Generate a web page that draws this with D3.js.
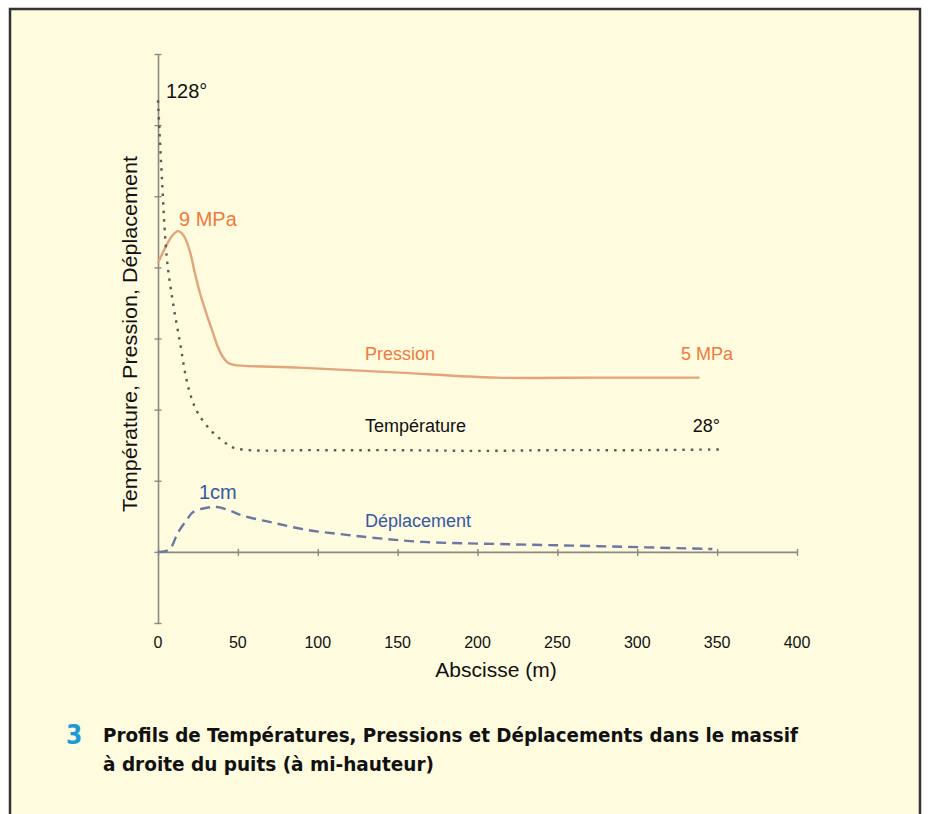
<!DOCTYPE html>
<html>
<head>
<meta charset="utf-8">
<script src="https://cdn.jsdelivr.net/npm/d3@7"></script>
<style>
  body { margin: 0; background: #fff; }
  text { font-family: "Liberation Sans", Arial, sans-serif; }
</style>
</head>
<body>
<div id="chart"></div>
<script>

//********************* DATA ************************************

// abscissa (m) and relative profile values (chart units, 0 = x axis)
var tempX  = [0, 2.5, 5.6, 9.4, 13.8, 17.5, 21.3, 25, 32.5, 40, 48, 100, 150, 200, 250, 300, 352];
var tempY  = [6.35, 5.23, 4.11, 3.50, 2.94, 2.46, 2.14, 1.95, 1.72, 1.57, 1.46, 1.43, 1.43, 1.42, 1.43, 1.43, 1.44];

var presX  = [0, 4.4, 8.75, 12.5, 16.25, 20, 23.1, 26.25, 30.6, 34.4, 37.5, 40.6, 43.75, 47.5, 88.75, 151, 212, 276, 339];
var presY  = [4.06, 4.27, 4.44, 4.51, 4.44, 4.22, 3.92, 3.64, 3.33, 3.08, 2.88, 2.74, 2.66, 2.63, 2.59, 2.52, 2.45, 2.45, 2.45];

var deplX  = [0, 4.4, 7.5, 12.5, 18, 22, 30.6, 37, 45, 53, 72, 93, 114, 134, 166, 214, 276, 347];
var deplY  = [0, 0.01, 0.04, 0.27, 0.45, 0.56, 0.62, 0.63, 0.58, 0.51, 0.41, 0.31, 0.25, 0.20, 0.14, 0.11, 0.08, 0.04];

var xTicks = [0, 50, 100, 150, 200, 250, 300, 350, 400];
var yTicks = [-1, 0, 1, 2, 3, 4, 5, 6, 7];

//********************* DIMENSIONS ************************************

var W = 928, H = 814;
var x = d3.scaleLinear().domain([0, 400]).range([158, 797]);
var y = d3.scaleLinear().domain([-1, 7]).range([623, 54]);

function zip(xs, ys) {
  return xs.map(function(d, i) { return {x: d, y: ys[i]}; });
}

var svg = d3.select("#chart").append("svg")
    .attr("width", W)
    .attr("height", H);

// frame
svg.append("rect")
    .attr("x", 10).attr("y", 9)
    .attr("width", 910).attr("height", 830)
    .attr("fill", "#fefbdf")
    .attr("stroke", "#333")
    .attr("stroke-width", 2.5);

//********************* AXES ************************************

var axisCol = "#8a8a80";

// x axis (drawn at value 0)
var xAxis = svg.append("g")
    .attr("transform", "translate(0," + y(0) + ")")
    .call(d3.axisBottom(x).tickValues(xTicks).tickSize(0).tickFormat(""));
xAxis.select(".domain").attr("stroke", axisCol).attr("stroke-width", 1.6);
xAxis.selectAll(".tick").append("line")
    .attr("y1", -3).attr("y2", 4)
    .attr("stroke", axisCol).attr("stroke-width", 1.4);

svg.selectAll(".xlab")
    .data(xTicks)
  .enter().append("text")
    .attr("x", function(d) { return x(d); })
    .attr("y", 648)
    .attr("text-anchor", "middle")
    .attr("font-size", 16)
    .attr("fill", "#111")
    .text(function(d) { return d; });

// y axis (no labels)
var yAxis = svg.append("g")
    .attr("transform", "translate(" + x(0) + ",0)")
    .call(d3.axisLeft(y).tickValues(yTicks).tickSize(0).tickFormat(""));
yAxis.select(".domain").attr("stroke", axisCol).attr("stroke-width", 1.6);
yAxis.selectAll(".tick").append("line")
    .attr("x1", -3.5).attr("x2", 3.5)
    .attr("stroke", axisCol).attr("stroke-width", 1.4);

svg.append("text")
    .attr("x", 496).attr("y", 677)
    .attr("text-anchor", "middle")
    .attr("font-size", 21)
    .attr("fill", "#111")
    .text("Abscisse (m)");

svg.append("text")
    .attr("transform", "translate(137,334) rotate(-90)")
    .attr("text-anchor", "middle")
    .attr("font-size", 20)
    .attr("fill", "#111")
    .attr("textLength", 356)
    .attr("lengthAdjust", "spacingAndGlyphs")
    .text("Température, Pression, Déplacement");

//********************* CURVES ************************************

var line = d3.line()
    .x(function(d) { return x(d.x); })
    .y(function(d) { return y(d.y); })
    .curve(d3.curveCatmullRom.alpha(0.5));

svg.append("path")
    .datum(zip(presX, presY))
    .attr("d", line)
    .attr("fill", "none")
    .attr("stroke", "#e3a47a")
    .attr("stroke-width", 2.4);

svg.append("path")
    .datum(zip(tempX, tempY))
    .attr("d", line)
    .attr("fill", "none")
    .attr("stroke", "#5c5c55")
    .attr("stroke-width", 2.4)
    .attr("stroke-dasharray", "2.5,6");

svg.append("path")
    .datum(zip(deplX, deplY))
    .attr("d", line)
    .attr("fill", "none")
    .attr("stroke", "#6b78a3")
    .attr("stroke-width", 2.4)
    .attr("stroke-dasharray", "10,6");

//********************* ANNOTATIONS ************************************

var orange = "#ef7a3c", blue = "#3558a6";

function label(txt, px, py, size, col, anchor) {
  svg.append("text")
      .attr("x", px).attr("y", py)
      .attr("font-size", size)
      .attr("fill", col)
      .attr("text-anchor", anchor || "start")
      .text(txt);
}

label("128°", 166, 98, 20, "#111");
label("9 MPa", 179, 226, 20, orange);
label("Pression", 365, 360, 18, orange);
label("5 MPa", 733, 360, 18, orange, "end");
label("Température", 365, 432, 18, "#111");
label("28°", 720, 432, 18, "#111", "end");
label("1cm", 199, 499, 20, blue);
label("Déplacement", 365, 527, 18, blue);

//********************* CAPTION ************************************

var capFont = "'Liberation Sans Narrow', 'DejaVu Sans Condensed', sans-serif";

svg.append("text")
    .attr("x", 66).attr("y", 744)
    .attr("font-size", 26)
    .attr("font-weight", "bold")
    .attr("fill", "#1b9bd8")
    .style("font-family", capFont)
    .text("3");

svg.append("text")
    .attr("x", 103).attr("y", 742)
    .attr("font-size", 19)
    .attr("font-weight", "bold")
    .attr("fill", "#111")
    .attr("textLength", 695)
    .attr("lengthAdjust", "spacingAndGlyphs")
    .style("font-family", capFont)
    .text("Profils de Températures, Pressions et Déplacements dans le massif");

svg.append("text")
    .attr("x", 103).attr("y", 771)
    .attr("font-size", 19)
    .attr("font-weight", "bold")
    .attr("fill", "#111")
    .attr("textLength", 331)
    .attr("lengthAdjust", "spacingAndGlyphs")
    .style("font-family", capFont)
    .text("à droite du puits (à mi-hauteur)");

</script>
</body>
</html>
